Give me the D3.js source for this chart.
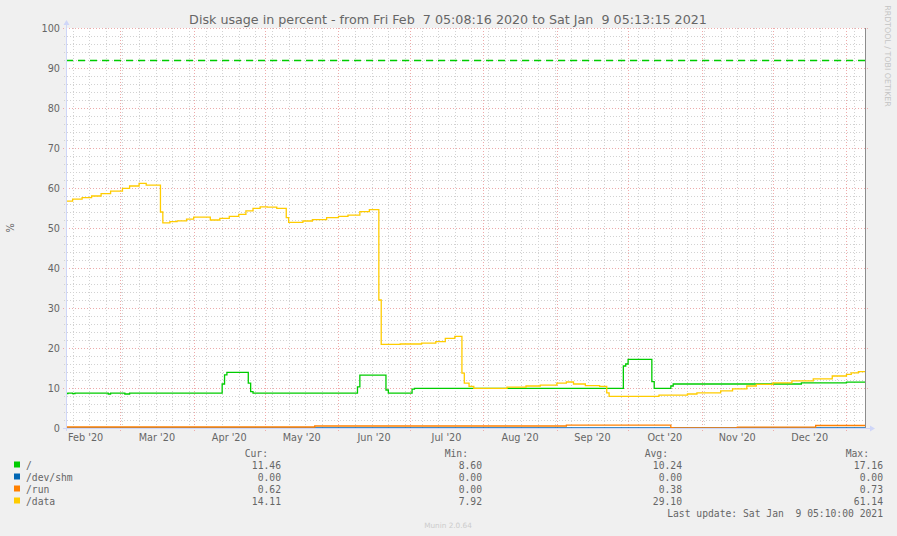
<!DOCTYPE html>
<html>
<head>
<meta charset="utf-8">
<script src="https://cdn.jsdelivr.net/npm/d3@7/dist/d3.min.js"></script>
<style>
  html, body { margin: 0; padding: 0; background: #f0f0f0; }
  svg { display: block; }
  text { white-space: pre; }
</style>
</head>
<body>
<svg id="chart" width="897" height="536"></svg>
<script>
// ---------- DATA ----------
const titleText = "Disk usage in percent - from Fri Feb  7 05:08:16 2020 to Sat Jan  9 05:13:15 2021";
const startTime = "2020-02-07 05:08:16";
const endTime = "2021-01-09 05:13:15";
const yTicks = [0, 10, 20, 30, 40, 50, 60, 70, 80, 90, 100];
const warningLevel = 92;

const seriesNames = ["/", "/dev/shm", "/run", "/data"];
const seriesColors = ["#00cc00", "#0066b3", "#ff8000", "#ffcc00"];

const rootDates = ["2020-02-07","2020-02-08","2020-02-10","2020-02-11","2020-02-25","2020-02-26","2020-03-03","2020-03-05",
  "2020-04-13","2020-04-14","2020-04-15","2020-04-24","2020-04-25","2020-04-26",
  "2020-06-09","2020-06-10","2020-06-21","2020-06-22","2020-07-02","2020-07-03",
  "2020-09-29","2020-09-30","2020-10-01","2020-10-11","2020-10-12","2020-10-19","2020-10-20","2020-12-13","2021-01-01"];
const rootValues = [8.6,8.7,8.6,8.7,8.5,8.7,8.5,8.7,
  11.0,13.3,13.9,11.2,9.1,8.7,
  10.3,13.2,9.5,8.7,9.7,9.9,
  15.5,16.0,17.16,11.6,9.9,10.5,11.0,11.3,11.46];

const shmDates = ["2020-02-07"];
const shmValues = [0.0];

const runDates = ["2020-02-07","2020-05-22","2020-09-05","2020-10-19","2020-10-20","2020-11-16","2020-12-19"];
const runValues = [0.25,0.5,0.73,0.1,0.0,0.2,0.62];

const dataDates = ["2020-02-07","2020-02-10","2020-02-14","2020-02-18","2020-02-22","2020-02-26","2020-03-02","2020-03-05","2020-03-09","2020-03-12",
  "2020-03-18","2020-03-19","2020-03-22","2020-03-25","2020-03-29","2020-04-01","2020-04-08","2020-04-12","2020-04-16","2020-04-20",
  "2020-04-23","2020-04-26","2020-04-29","2020-05-02","2020-05-06","2020-05-10","2020-05-11","2020-05-17","2020-05-21","2020-05-27",
  "2020-06-01","2020-06-05","2020-06-10","2020-06-14","2020-06-18","2020-06-19","2020-06-27","2020-07-06","2020-07-12","2020-07-16",
  "2020-07-20","2020-07-23","2020-07-24","2020-07-26","2020-07-28","2020-08-11","2020-08-19","2020-08-25","2020-09-01","2020-09-05",
  "2020-09-08","2020-09-13","2020-09-19","2020-09-22","2020-09-23","2020-10-14","2020-10-26","2020-10-30","2020-11-09","2020-11-14",
  "2020-11-20","2020-11-24","2020-12-01","2020-12-09","2020-12-18","2020-12-26","2021-01-01","2021-01-03","2021-01-06"];
const dataValues = [56.7,57.2,57.6,58.0,58.6,59.2,59.9,60.5,61.14,60.7,
  54.0,51.3,51.6,51.8,52.2,52.7,52.0,52.4,52.9,53.4,
  54.3,54.9,55.3,55.2,54.9,52.6,51.4,51.75,52.1,52.6,
  52.9,53.2,54.1,54.6,32.0,20.9,21.0,21.2,21.6,22.4,
  22.9,13.7,11.2,10.4,9.9,10.2,10.5,10.7,11.2,11.5,
  11.0,10.6,10.4,8.8,7.92,8.2,8.5,8.8,9.3,9.8,
  10.5,10.9,11.3,11.8,12.3,13.0,13.4,13.8,14.11];

const legendHeaders = ["Cur:", "Min:", "Avg:", "Max:"];
const curValues = ["11.46", "0.00", "0.62", "14.11"];
const minValues = ["8.60", "0.00", "0.00", "7.92"];
const avgValues = ["10.24", "0.00", "0.38", "29.10"];
const maxValues = ["17.16", "0.00", "0.73", "61.14"];
const lastUpdate = "Last update: Sat Jan  9 05:10:00 2021";
const footerText = "Munin 2.0.64";
const sideText = "RRDTOOL / TOBI OETIKER";
const yAxisLabel = "%";

// ---------- SETUP ----------
const svg = d3.select("#chart");
const W = 897, H = 536;
const plot = { left: 66, top: 28, width: 800, height: 400 };
const parseFull = d3.utcParse("%Y-%m-%d %H:%M:%S");
const parseDay = d3.utcParse("%Y-%m-%d");
const t0 = parseFull(startTime), t1 = parseFull(endTime);

const x = d3.scaleUtc().domain([t0, t1]).range([plot.left, plot.left + plot.width]);
const y = d3.scaleLinear().domain([0, 100]).range([plot.top + plot.height, plot.top]);

const FONT = "'DejaVu Sans', sans-serif";
const MONO = "'DejaVu Sans Mono', monospace";
const FONTCOL = "#666666";
const AXISCOL = "#CFD6F8";
const GRIDCOL = "#d2d2d2";
const MGRIDCOL = "#eeaaaa";

svg.append("rect").attr("width", W).attr("height", H).attr("fill", "#f0f0f0");
svg.append("rect").attr("x", plot.left).attr("y", plot.top)
  .attr("width", plot.width).attr("height", plot.height).attr("fill", "#ffffff");

// ---------- GRID ----------
const grid = svg.append("g").attr("shape-rendering", "crispEdges");
const minorY = d3.range(0, 101, 2).filter(v => v % 10 !== 0);
grid.selectAll(".hminor").data(minorY).join("line")
  .attr("x1", plot.left - 2).attr("x2", plot.left + plot.width + 2)
  .attr("y1", d => Math.round(y(d)) + 0.5).attr("y2", d => Math.round(y(d)) + 0.5)
  .attr("stroke", GRIDCOL).attr("stroke-dasharray", "1,2");
const weeks = d3.utcMonday.range(t0, t1);
grid.selectAll(".vminor").data(weeks).join("line")
  .attr("x1", d => Math.round(x(d)) + 0.5).attr("x2", d => Math.round(x(d)) + 0.5)
  .attr("y1", plot.top).attr("y2", plot.top + plot.height + 2)
  .attr("stroke", GRIDCOL).attr("stroke-dasharray", "1,2");
grid.selectAll(".hmajor").data(yTicks).join("line")
  .attr("x1", plot.left - 3).attr("x2", plot.left + plot.width + 3)
  .attr("y1", d => Math.round(y(d)) + 0.5).attr("y2", d => Math.round(y(d)) + 0.5)
  .attr("stroke", MGRIDCOL).attr("stroke-dasharray", "1,2");
const months = d3.utcMonth.range(t0, t1);
grid.selectAll(".vmajor").data(months).join("line")
  .attr("x1", d => Math.round(x(d)) + 0.5).attr("x2", d => Math.round(x(d)) + 0.5)
  .attr("y1", plot.top).attr("y2", plot.top + plot.height + 3)
  .attr("stroke", MGRIDCOL).attr("stroke-dasharray", "1,2");

// ---------- Y AXIS LABELS ----------
svg.append("g").selectAll("text").data(yTicks).join("text")
  .attr("x", plot.left - 6).attr("y", d => y(d) + 3.5)
  .attr("text-anchor", "end").attr("font-family", FONT).attr("font-size", "9.7px")
  .attr("fill", FONTCOL).text(d => d);

// ---------- X AXIS LABELS (centered mid-month) ----------
const fmtMonth = d3.utcFormat("%b '%y");
const midMonth = d => new Date(+d + (d3.utcMonth.offset(d, 1) - d) / 2);
const labelMonths = d3.utcMonth.range(d3.utcMonth.floor(t0), t1).filter(d => midMonth(d) <= t1);
svg.append("g").selectAll("text").data(labelMonths).join("text")
  .attr("x", d => x(midMonth(d)))
  .attr("y", plot.top + plot.height + 13)
  .attr("text-anchor", "middle").attr("font-family", FONT).attr("font-size", "9.7px")
  .attr("fill", FONTCOL).text(d => fmtMonth(d));

// ---------- WARNING RULE ----------
svg.append("line")
  .attr("x1", plot.left).attr("x2", plot.left + plot.width)
  .attr("y1", Math.round(y(warningLevel)) + 0.5).attr("y2", Math.round(y(warningLevel)) + 0.5)
  .attr("stroke", "#00cc00").attr("stroke-width", 1.3).attr("stroke-dasharray", "7,5");

// ---------- SERIES ----------
svg.append("clipPath").attr("id", "clip").append("rect")
  .attr("x", plot.left).attr("y", plot.top - 2).attr("width", plot.width).attr("height", plot.height + 4);

const seriesData = [
  [rootDates, rootValues],
  [shmDates, shmValues],
  [runDates, runValues],
  [dataDates, dataValues]
].map(([ds, vs]) => {
  const pts = ds.map((d, i) => ({ t: parseDay(d), v: vs[i] }));
  pts.push({ t: t1, v: vs[vs.length - 1] });
  return pts;
});

const line = d3.line().x(d => x(d.t)).y(d => y(d.v)).curve(d3.curveStepAfter);
const linesG = svg.append("g").attr("clip-path", "url(#clip)");
seriesData.forEach((pts, i) => {
  linesG.append("path").datum(pts)
    .attr("d", line).attr("fill", "none")
    .attr("stroke", seriesColors[i]).attr("stroke-width", 1.3);
});

// ---------- AXES + ARROWS ----------
const axisY0 = Math.round(y(0)) + 0.5;
svg.append("line").attr("x1", plot.left - 3).attr("x2", plot.left + plot.width + 5)
  .attr("y1", axisY0).attr("y2", axisY0).attr("stroke", AXISCOL);
svg.append("line").attr("x1", plot.left + 0.5).attr("x2", plot.left + 0.5)
  .attr("y1", plot.top + plot.height + 3).attr("y2", plot.top - 4).attr("stroke", AXISCOL);
svg.append("path")
  .attr("d", `M${plot.left + plot.width + 4},${axisY0 - 3} L${plot.left + plot.width + 9},${axisY0} L${plot.left + plot.width + 4},${axisY0 + 3} Z`)
  .attr("fill", AXISCOL);
svg.append("path")
  .attr("d", `M${plot.left - 2.5},${plot.top - 3} L${plot.left + 0.5},${plot.top - 8} L${plot.left + 3.5},${plot.top - 3} Z`)
  .attr("fill", AXISCOL);
// right edge rule
svg.append("line").attr("x1", plot.left + plot.width - 0.5).attr("x2", plot.left + plot.width - 0.5)
  .attr("y1", plot.top).attr("y2", plot.top + plot.height).attr("stroke", "#8c8c8c");

// ---------- TITLE / LABELS ----------
svg.append("text").attr("x", 448).attr("y", 24).attr("text-anchor", "middle")
  .attr("font-family", FONT).attr("font-size", "12.7px").attr("fill", FONTCOL).text(titleText);
svg.append("text").attr("transform", "translate(14,228) rotate(-90)").attr("text-anchor", "middle")
  .attr("font-family", FONT).attr("font-size", "9.7px").attr("fill", FONTCOL).text(yAxisLabel);
svg.append("text").attr("transform", "translate(885,56) rotate(90)").attr("text-anchor", "middle")
  .attr("font-family", FONT).attr("font-size", "7.9px").attr("fill", "#c4c4c4").text(sideText);

// ---------- LEGEND ----------
const legend = svg.append("g").attr("font-family", MONO).attr("font-size", "9.7px").attr("fill", FONTCOL);
const headerX = [268, 468, 668, 869];
const valueX = [281, 482, 682, 883];
legendHeaders.forEach((h, i) => {
  legend.append("text").attr("x", headerX[i]).attr("y", 456.5).attr("text-anchor", "end").text(h);
});
const cols = [curValues, minValues, avgValues, maxValues];
seriesNames.forEach((name, r) => {
  const by = 468.5 + r * 12;
  legend.append("rect").attr("x", 14).attr("y", by - 7).attr("width", 6).attr("height", 6)
    .attr("fill", seriesColors[r]);
  legend.append("text").attr("x", 26).attr("y", by).text(name);
  cols.forEach((c, k) => {
    legend.append("text").attr("x", valueX[k]).attr("y", by).attr("text-anchor", "end").text(c[r]);
  });
});
legend.append("text").attr("x", 883).attr("y", 516.5).attr("text-anchor", "end").text(lastUpdate);

svg.append("text").attr("x", 448).attr("y", 527.5).attr("text-anchor", "middle")
  .attr("font-family", FONT).attr("font-size", "7.3px").attr("fill", "#cccccc").text(footerText);
</script>
</body>
</html>
